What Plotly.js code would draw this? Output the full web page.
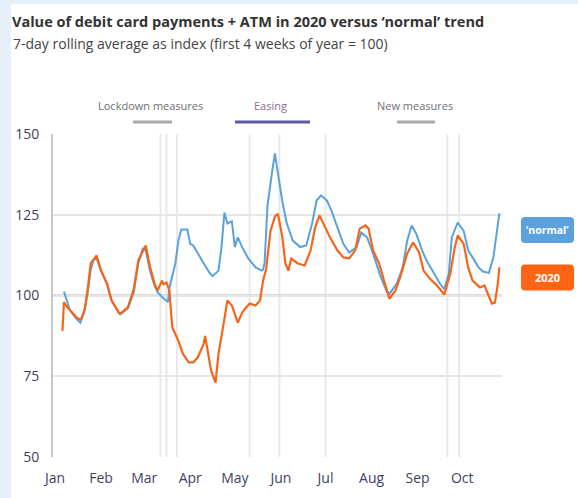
<!DOCTYPE html>
<html>
<head>
<meta charset="utf-8">
<script src="https://cdn.plot.ly/plotly-3.0.1.min.js"></script>
<style>html,body{margin:0;padding:0;background:#e6f0fa;}#chart{width:578px;height:498px;}</style>
</head>
<body>
<div id="chart"></div>
<script>
const normalDates = ["2020-01-07","2020-01-09","2020-01-11","2020-01-15","2020-01-18","2020-01-21","2020-01-23","2020-01-25","2020-01-27","2020-01-29",
"2020-02-01","2020-02-05","2020-02-08","2020-02-13","2020-02-14","2020-02-19","2020-02-23","2020-02-26","2020-02-29",
"2020-03-02","2020-03-05","2020-03-08","2020-03-10","2020-03-13","2020-03-16","2020-03-17","2020-03-18","2020-03-22","2020-03-24","2020-03-26","2020-03-30",
"2020-04-01","2020-04-03","2020-04-06","2020-04-10","2020-04-14","2020-04-16","2020-04-20","2020-04-22","2020-04-24","2020-04-26","2020-04-29",
"2020-05-01","2020-05-03","2020-05-06","2020-05-10","2020-05-15","2020-05-19","2020-05-20","2020-05-21","2020-05-22","2020-05-23","2020-05-26","2020-05-28","2020-05-30",
"2020-06-01","2020-06-02","2020-06-05","2020-06-09","2020-06-14","2020-06-18","2020-06-22","2020-06-25","2020-06-28",
"2020-07-02","2020-07-05","2020-07-09","2020-07-13","2020-07-17","2020-07-22","2020-07-25","2020-07-29",
"2020-08-02","2020-08-07","2020-08-11","2020-08-13","2020-08-18","2020-08-22","2020-08-25","2020-08-28","2020-08-31",
"2020-09-04","2020-09-07","2020-09-12","2020-09-16","2020-09-19","2020-09-22","2020-09-24","2020-09-28",
"2020-10-02","2020-10-05","2020-10-08","2020-10-12","2020-10-15","2020-10-19","2020-10-22","2020-10-24","2020-10-26"];
const normalValues = [101.2,98,95.5,93,91.6,95.5,101,108,111,111.5,
107.5,103.5,98.5,94.5,94.2,96,101,110,114.5,
114,107.5,103,101,99.5,98.5,98,102.5,110,117,120.4,120.4,
116,115.5,113,110,107,106,107.7,114.9,125.7,122.3,123,
115,118,114.9,111.5,108.7,107.7,108,110,120,128,138,144,137.8,
132,129,122.3,117,115,115.5,122.3,129.4,131,
129.4,126.3,121,116,113.3,115,119.5,118,
113,106,101.5,100.5,103.7,108.7,117,121.7,119.2,
114,110.8,106.8,103.7,102,106.8,118,122.6,
120,114,111.8,108.7,107.4,107,111.8,119.2,125.4];

const dates2020 = ["2020-01-06","2020-01-07","2020-01-09","2020-01-11","2020-01-15","2020-01-17","2020-01-19","2020-01-21","2020-01-23","2020-01-25","2020-01-29",
"2020-02-01","2020-02-03","2020-02-05","2020-02-08","2020-02-13","2020-02-14","2020-02-19","2020-02-23","2020-02-26",
"2020-03-02","2020-03-05","2020-03-08","2020-03-10","2020-03-13","2020-03-14","2020-03-16","2020-03-18","2020-03-19","2020-03-20","2020-03-24","2020-03-27","2020-03-31",
"2020-04-03","2020-04-06","2020-04-10","2020-04-11","2020-04-13","2020-04-15","2020-04-18","2020-04-20","2020-04-23","2020-04-26","2020-04-29",
"2020-05-01","2020-05-03","2020-05-06","2020-05-08","2020-05-11","2020-05-15","2020-05-18","2020-05-20","2020-05-22","2020-05-25","2020-05-28","2020-05-30",
"2020-06-02","2020-06-04","2020-06-06","2020-06-08","2020-06-12","2020-06-17","2020-06-21","2020-06-24","2020-06-27",
"2020-07-01","2020-07-04","2020-07-09","2020-07-13","2020-07-17","2020-07-21","2020-07-24","2020-07-28","2020-07-30",
"2020-08-02","2020-08-06","2020-08-09","2020-08-11","2020-08-13","2020-08-17","2020-08-20","2020-08-25","2020-08-29",
"2020-09-02","2020-09-05","2020-09-09","2020-09-14","2020-09-19","2020-09-23","2020-09-26","2020-09-28",
"2020-10-02","2020-10-05","2020-10-08","2020-10-13","2020-10-16","2020-10-19","2020-10-21","2020-10-23","2020-10-25","2020-10-26"];
const values2020 = [89,98,96.5,95.4,93.5,92.6,93,96,102,110,112.4,
107.7,105.5,103.7,98.5,94.7,94.4,96.3,102,110.8,
115.5,108.7,103.7,101.5,104.6,103.5,104,101.5,95,90,86,82,79.3,
79.3,80.8,85,87.5,82,76.8,73,82,90,98.5,96.9,
94.4,91.6,94.7,96,97.5,96.9,98.5,104.6,108,120,124.5,125.3,
118,110,107.7,111.5,110,109.3,114,121,124.8,
121,118,114,111.8,111.5,114,120.7,121.7,120.7,
114,110,105,101.5,99,101.5,105.3,113,116.4,
113.3,107.7,105.3,103.1,100.3,106.8,114.9,118.6,
116,108.7,104.6,102.5,103.1,99.4,97.5,97.8,103.7,108.7];

const lockdownDates = ["2020-03-12","2020-03-16","2020-03-23"];
const easingDates = ["2020-05-11","2020-05-31","2020-07-01"];
const newMeasuresDates = ["2020-09-21","2020-09-29"];

const yTicks = [50,75,100,125,150];
const baseline = 100;

const FONT = "'Open Sans', 'Noto Sans', sans-serif";
const toPx = (xp) => (xp - 53) / 449;
const toPy = (yp) => (457 - yp) / 323;

const shapes = [];
// white panel
shapes.push({type:'rect', xref:'paper', yref:'paper', x0:toPx(11), x1:toPx(580), y0:toPy(500), y1:toPy(4),
  fillcolor:'#ffffff', line:{width:0}, layer:'below'});
[...lockdownDates, ...easingDates, ...newMeasuresDates].forEach(d => {
  shapes.push({type:'line', xref:'x', yref:'paper', x0:d, x1:d, y0:0, y1:1,
    line:{color:'#e8e8e8', width:2}, layer:'below'});
});
shapes.push({type:'line', xref:'paper', yref:'y', x0:0, x1:1, y0:baseline, y1:baseline,
  line:{color:'#b5b5b5', width:2}, layer:'below'});
// legend strokes
const legendY = toPy(122);
shapes.push({type:'line', xref:'paper', yref:'paper', x0:toPx(133), x1:toPx(172), y0:legendY, y1:legendY, line:{color:'#a8a8a8', width:3}});
shapes.push({type:'line', xref:'paper', yref:'paper', x0:toPx(235), x1:toPx(310), y0:legendY, y1:legendY, line:{color:'#5c5ca6', width:3}});
shapes.push({type:'line', xref:'paper', yref:'paper', x0:toPx(397), x1:toPx(435), y0:legendY, y1:legendY, line:{color:'#a8a8a8', width:3}});
// rounded label boxes
const rr = 'M -22.5,-13 L 22.5,-13 Q 26.5,-13 26.5,-9 L 26.5,9 Q 26.5,13 22.5,13 L -22.5,13 Q -26.5,13 -26.5,9 L -26.5,-9 Q -26.5,-13 -22.5,-13 Z';
shapes.push({type:'path', xref:'paper', yref:'paper', xsizemode:'pixel', ysizemode:'pixel',
  xanchor:toPx(547.5), yanchor:toPy(230), path:rr, fillcolor:'#5ba1db', line:{width:0}});
shapes.push({type:'path', xref:'paper', yref:'paper', xsizemode:'pixel', ysizemode:'pixel',
  xanchor:toPx(547.5), yanchor:toPy(277.5), path:rr, fillcolor:'#ff6414', line:{width:0}});

const annotations = [
  {xref:'paper', yref:'paper', x:toPx(11), y:toPy(44), xanchor:'left', yanchor:'middle', showarrow:false,
   text:'7-day rolling average as index (first 4 weeks of year = 100)', font:{family:FONT, size:14, color:'#444444'}},
  {xref:'paper', yref:'paper', x:toPx(150), y:toPy(105), xanchor:'center', yanchor:'middle', showarrow:false,
   text:'Lockdown measures', font:{family:FONT, size:11, color:'#707070'}},
  {xref:'paper', yref:'paper', x:toPx(270), y:toPy(105), xanchor:'center', yanchor:'middle', showarrow:false,
   text:'Easing', font:{family:FONT, size:11, color:'#8a6f8a'}},
  {xref:'paper', yref:'paper', x:toPx(415), y:toPy(105), xanchor:'center', yanchor:'middle', showarrow:false,
   text:'New measures', font:{family:FONT, size:11, color:'#707070'}},
  {xref:'paper', yref:'paper', x:toPx(547.5), y:toPy(230), xanchor:'center', yanchor:'middle', showarrow:false,
   text:'<b>‘normal’</b>', font:{family:FONT, size:10.5, color:'#ffffff'}},
  {xref:'paper', yref:'paper', x:toPx(547.5), y:toPy(277.5), xanchor:'center', yanchor:'middle', showarrow:false,
   text:'<b>2020</b>', font:{family:FONT, size:11, color:'#ffffff'}}
];

const traces = [
  {x:normalDates, y:normalValues, type:'scatter', mode:'lines', name:'‘normal’',
   line:{color:'#5ba1db', width:2}, hoverinfo:'skip'},
  {x:dates2020, y:values2020, type:'scatter', mode:'lines', name:'2020',
   line:{color:'#f5661a', width:2.2}, hoverinfo:'skip'}
];

const layout = {
  width:578, height:498,
  margin:{l:53, r:76, t:134, b:41},
  paper_bgcolor:'#e6f0fa', plot_bgcolor:'rgba(0,0,0,0)',
  showlegend:false,
  title:{text:'<b>Value of debit card payments + ATM in 2020 versus ‘normal’ trend</b>',
    xref:'container', yref:'container', x:12/578, xanchor:'left', y:1-22/498, yanchor:'middle',
    font:{family:FONT, size:14.5, color:'#333333'}},
  xaxis:{type:'date', range:['2019-12-30 15:00','2020-10-27 19:00'], tickformat:'%b', dtick:'M1', tick0:'2020-01-01',
    showgrid:false, zeroline:false, showline:false, ticks:'', ticklabelstandoff:11,
    tickfont:{family:FONT, size:14, color:'#3f3f5f'}},
  yaxis:{range:[50,150], tickvals:yTicks, showgrid:true, gridcolor:'#e6e6e6', gridwidth:2, zeroline:false,
    showline:true, linecolor:'#c8c8c8', linewidth:2, ticks:'', ticklabelstandoff:9,
    tickfont:{family:FONT, size:14, color:'#3f3f5f'}},
  shapes:shapes, annotations:annotations
};

Plotly.newPlot('chart', traces, layout, {staticPlot:true, displayModeBar:false});
</script>
</body>
</html>
